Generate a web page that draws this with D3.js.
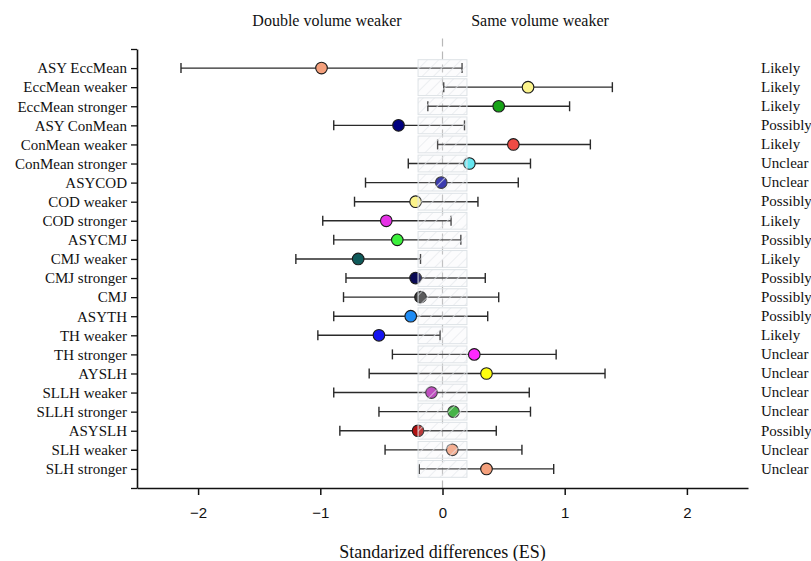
<!DOCTYPE html>
<html>
<head>
<meta charset="utf-8">
<script src="https://cdn.jsdelivr.net/npm/d3@7"></script>
<style>
  html, body { margin: 0; padding: 0; background: #fff; }
  #chart { width: 811px; height: 561px; }
</style>
</head>
<body>
<div id="chart"></div>
<script>
(function() {
  var SERIF = '"Liberation Serif", "Times New Roman", serif';
  var SANS = '"Liberation Sans", Arial, sans-serif';

  // data, top to bottom
  var labels = ['ASY EccMean', 'EccMean weaker', 'EccMean stronger', 'ASY ConMean', 'ConMean weaker', 'ConMean stronger',
    'ASYCOD', 'COD weaker', 'COD stronger', 'ASYCMJ', 'CMJ weaker', 'CMJ stronger', 'CMJ', 'ASYTH', 'TH weaker',
    'TH stronger', 'AYSLH', 'SLLH weaker', 'SLLH stronger', 'ASYSLH', 'SLH weaker', 'SLH stronger'];
  var es = [-0.99, 0.70, 0.46, -0.36, 0.58, 0.22, -0.01, -0.22, -0.46, -0.37, -0.69, -0.22, -0.18, -0.26, -0.52,
    0.26, 0.36, -0.09, 0.09, -0.20, 0.08, 0.36];
  var lower = [-2.14, 0.01, -0.12, -0.89, -0.04, -0.28, -0.63, -0.72, -0.98, -0.89, -1.20, -0.79, -0.81, -0.89, -1.02,
    -0.41, -0.60, -0.89, -0.52, -0.84, -0.47, -0.19];
  var upper = [0.16, 1.39, 1.04, 0.18, 1.21, 0.72, 0.62, 0.29, 0.07, 0.15, -0.18, 0.35, 0.46, 0.37, -0.02,
    0.93, 1.33, 0.71, 0.72, 0.44, 0.65, 0.91];
  var verdicts = ['Likely', 'Likely', 'Likely', 'Possibly', 'Likely', 'Unclear', 'Unclear', 'Possibly', 'Likely', 'Possibly',
    'Likely', 'Possibly', 'Possibly', 'Possibly', 'Likely', 'Unclear', 'Unclear', 'Unclear', 'Unclear', 'Possibly',
    'Unclear', 'Unclear'];
  var colors = ['#f4a07c', '#fcf48c', '#16a316', '#000080', '#ef4b45', '#66e6f0', '#1414a0', '#fbf38a', '#e632e6', '#3cf03c',
    '#0f5a5a', '#0a0a55', '#3a3a3a', '#1e8cf5', '#1414f0', '#ff28ff', '#ffff10', '#b42cb4', '#22a622', '#b01212',
    '#f4a07c', '#f4a07c'];
  var xTicks = [-2, -1, 0, 1, 2];
  var trivial = [-0.2, 0.2];
  var sides = ['Double volume weaker', 'Same volume weaker'];

  var rows = labels.map(function(l, i) {
    return { label: l, idx: i + 1, es: es[i], lo: lower[i], hi: upper[i], verdict: verdicts[i], color: colors[i] };
  });

  var w = 811, h = 561;
  var svg = d3.select('#chart').append('svg').attr('width', w).attr('height', h);

  var x = d3.scaleLinear().domain([-2.5, 2.5]).range([137, 748]);
  var y = d3.scaleLinear().domain([0, labels.length + 1]).range([49, 488]);

  // hatch pattern for the trivial band
  var pat = svg.append('defs').append('pattern').attr('id', 'hatch')
    .attr('patternUnits', 'userSpaceOnUse').attr('width', 8).attr('height', 8)
    .attr('patternTransform', 'rotate(45)');
  pat.append('rect').attr('width', 8).attr('height', 8).attr('fill', '#eef1f4').attr('fill-opacity', 0.18);
  pat.append('line').attr('x1', 0).attr('y1', 0).attr('x2', 0).attr('y2', 8)
    .attr('stroke', '#e4e8ec').attr('stroke-width', 1.4).attr('stroke-opacity', 0.95);

  // dashed zero line
  svg.append('line').attr('x1', x(0)).attr('x2', x(0)).attr('y1', y(-0.55)).attr('y2', y(labels.length + 1))
    .attr('stroke', '#b8b8b8').attr('stroke-width', 1.2).attr('stroke-dasharray', '8,5');

  // error bars
  var bars = svg.append('g').selectAll('g').data(rows).join('g');
  bars.append('line')
    .attr('x1', function(d) { return x(d.lo); }).attr('x2', function(d) { return x(d.hi); })
    .attr('y1', function(d) { return y(d.idx); }).attr('y2', function(d) { return y(d.idx); })
    .attr('stroke', '#2a2a2a').attr('stroke-width', 1.4);
  ['lo', 'hi'].forEach(function(k) {
    bars.append('line')
      .attr('x1', function(d) { return x(d[k]); }).attr('x2', function(d) { return x(d[k]); })
      .attr('y1', function(d) { return y(d.idx) - 5; }).attr('y2', function(d) { return y(d.idx) + 5; })
      .attr('stroke', '#2a2a2a').attr('stroke-width', 1.4);
  });

  // points
  svg.append('g').selectAll('circle').data(rows).join('circle')
    .attr('cx', function(d) { return x(d.es); })
    .attr('cy', function(d) { return y(d.idx); })
    .attr('r', 5.8)
    .attr('fill', function(d) { return d.color; })
    .attr('stroke', '#1a1a1a').attr('stroke-width', 1.1);

  // trivial band boxes on top
  var rowH = y(1) - y(0);
  svg.append('g').selectAll('rect').data(rows).join('rect')
    .attr('x', x(trivial[0])).attr('width', x(trivial[1]) - x(trivial[0]))
    .attr('y', function(d) { return y(d.idx) - rowH * 0.44; })
    .attr('height', rowH * 0.88)
    .attr('fill', 'url(#hatch)')
    .attr('stroke', '#dde2e6').attr('stroke-width', 1);

  // x axis
  svg.append('g').attr('transform', 'translate(0,' + y(labels.length + 1) + ')')
    .call(d3.axisBottom(x).tickValues(xTicks).tickSize(7).tickSizeOuter(0).tickPadding(12).tickFormat(d3.format('d')))
    .call(function(g) { g.select('.domain').attr('stroke', '#111').attr('stroke-width', 1.6); })
    .call(function(g) { g.selectAll('.tick line').attr('stroke', '#111').attr('stroke-width', 1.5); })
    .call(function(g) { g.selectAll('.tick text').attr('fill', '#111').attr('font-size', '15px').attr('font-family', SANS); });

  // y axis
  svg.append('g').attr('transform', 'translate(' + x(-2.5) + ',0)')
    .call(d3.axisLeft(y).tickValues(d3.range(0, labels.length + 2)).tickSize(6).tickSizeOuter(0).tickPadding(4)
      .tickFormat(function(d) { return labels[d - 1] || ''; }))
    .call(function(g) { g.select('.domain').attr('stroke', '#111').attr('stroke-width', 1.6); })
    .call(function(g) { g.selectAll('.tick line').attr('stroke', '#111').attr('stroke-width', 1.3); })
    .call(function(g) { g.selectAll('.tick text').attr('fill', '#111').attr('font-size', '15px').attr('font-family', SERIF); });

  // verdicts on the right
  svg.append('g').selectAll('text').data(rows).join('text')
    .attr('x', 761).attr('y', function(d) { return y(d.idx); }).attr('dy', '0.32em')
    .attr('fill', '#111').attr('font-size', '15px').attr('font-family', SERIF)
    .text(function(d) { return d.verdict; });

  // side captions
  svg.append('text').attr('x', 327).attr('y', 26).attr('text-anchor', 'middle')
    .attr('fill', '#111').attr('font-size', '16px').attr('font-family', SERIF).text(sides[0]);
  svg.append('text').attr('x', 540).attr('y', 26).attr('text-anchor', 'middle')
    .attr('fill', '#111').attr('font-size', '16px').attr('font-family', SERIF).text(sides[1]);

  // axis title
  svg.append('text').attr('x', x(0)).attr('y', 558).attr('text-anchor', 'middle')
    .attr('fill', '#111').attr('font-size', '18px').attr('font-family', SERIF)
    .text('Standarized differences (ES)');
})();
</script>
</body>
</html>
